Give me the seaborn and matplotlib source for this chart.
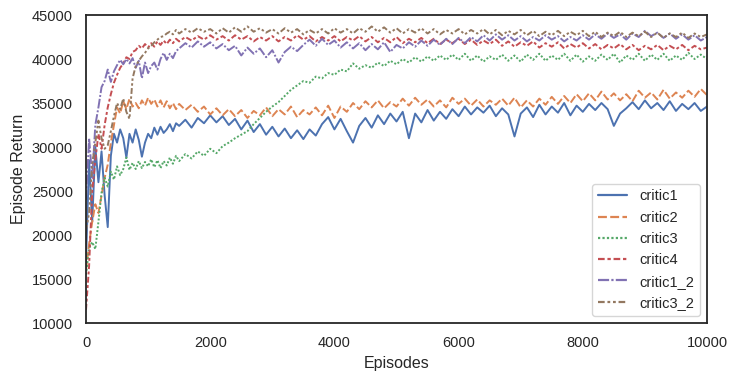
import numpy as np
import pandas as pd
import matplotlib
matplotlib.use("Agg")
import matplotlib.pyplot as plt
import seaborn as sns

# x grid: every 50 episodes up to 1450, then every 100 up to 10000
episodes = list(range(0, 1500, 50)) + list(range(1500, 10001, 100))

series_names = ["critic1", "critic2", "critic3", "critic4", "critic1_2", "critic3_2"]

critic1 = [
    17000, 28500, 21500, 30000, 26000, 29500, 24500, 20900, 29000, 31500,
    30500, 32000, 31000, 28800, 31500, 30500, 32000, 30800, 28900, 30500,
    31500, 31000, 32200, 31400, 32300, 31600, 32000, 32600, 31800, 32700,
    32400, 33100, 32200, 33300, 32700, 33600, 32800, 33500, 32500, 33200,
    32000, 33000, 31700, 32600, 31400, 32300, 31200, 32100, 31000, 31900,
    30900, 32000, 31300, 32600, 33400, 32000, 33200, 31800, 30500, 32400,
    33300, 32200, 33600, 32600, 33800, 32900, 34000, 31000, 33800, 32800,
    34200, 33000, 34000, 33200, 34300, 33500, 34600, 33700, 34500, 33900,
    34700, 33500, 34400, 33700, 31200, 33800, 34500, 33400, 34800, 33700,
    34600, 33900, 35000, 33600, 34700, 34000, 34900, 34200, 35000, 34300,
    32400, 33800, 34400, 35100, 34300, 35300, 34400, 35000, 34200, 35200,
    34100, 34900, 34300, 35000, 34100, 34600,
]

critic2 = [
    16000, 19000, 21500, 23500, 22500, 24500, 26500, 28000, 30500, 32500,
    34500, 33800, 35200, 34300, 35500, 34600, 35000, 34400, 35300, 34700,
    35600, 34900, 35400, 34600, 35300, 34500, 35200, 34400, 35000, 34300,
    34900, 34200, 34800, 34000, 34600, 33700, 34400, 33600, 34300, 33500,
    34200, 33300, 34100, 33600, 34500, 33500, 34300, 33700, 34600, 33400,
    34200, 33700, 34500, 33600, 34700, 33300, 34600, 34000, 35000, 34300,
    35200, 34500, 35300, 34400, 35100, 34600, 35500, 34700, 35600, 34800,
    35400, 34600, 35300, 34500, 35600, 34900, 35500, 34700, 35400, 34600,
    35300, 34800, 35500, 34700, 35600, 34500, 35300, 34600, 35500, 34800,
    35700, 34900, 35800, 35000, 36000, 35200, 36100, 35300, 36300, 35400,
    36100, 35300, 36000, 35200, 36400, 35600, 36200, 35400, 36500, 35500,
    36200, 35600, 36400, 35700, 36600, 35900,
]

critic3 = [
    15500, 18500, 19200, 18400, 21500, 24800, 26500, 25500, 27200, 26300,
    27800, 26800, 27500, 28800, 27400, 28200, 27500, 28400, 27600, 28300,
    27800, 28600, 27700, 28500, 27600, 28400, 27900, 28800, 28100, 29000,
    28400, 29200, 28700, 29500, 29000, 29800, 29300, 30100, 30500, 31000,
    31400, 31800, 32600, 33300, 34000, 34600, 35100, 35800, 36500, 37000,
    37500, 37300, 38000, 37800, 38400, 38200, 38800, 38600, 39500, 38900,
    39300, 39000, 39600, 39200, 39800, 39400, 40000, 39600, 40200, 39700,
    40300, 39800, 40400, 39900, 40500, 39900, 40600, 39800, 40400, 39700,
    40300, 39900, 40500, 39800, 40400, 39700, 40500, 39900, 40600, 39800,
    40400, 39900, 40600, 39800, 40500, 39700, 40300, 39800, 40500, 39900,
    40600, 39600, 40400, 39900, 40600, 39800, 40500, 39900, 40600, 39800,
    40400, 39900, 40700, 40000, 40500, 40000,
]

critic4 = [
    11500, 16500, 25000, 28500, 31500, 29800, 32500, 34500, 36000, 37300,
    38200, 39000, 39500, 40200, 40000, 40800, 41000, 41500, 41200, 41700,
    41300, 41800, 41400, 42000, 41600, 42100, 41700, 42200, 41800, 42300,
    42000, 42500, 42100, 42600, 42200, 42700, 42200, 42600, 42100, 42700,
    42200, 42600, 42000, 42500, 42100, 42600, 42000, 42500, 42100, 42700,
    42200, 42600, 42000, 42500, 42100, 42600, 42000, 42500, 42100, 42600,
    42000, 42500, 41900, 42400, 41900, 42500, 41800, 42300, 41900, 42400,
    41800, 42300, 41700, 42200, 41800, 42300, 41700, 42200, 41600, 42100,
    41700, 42200, 41500, 42000, 41400, 41900, 41500, 42000, 41300, 41800,
    41400, 41900, 41200, 41700, 41300, 41800, 41200, 41700, 41100, 41600,
    41200, 41700, 41100, 41600, 41000, 41500, 41100, 41600, 41000, 41500,
    41100, 41600, 41000, 41500, 41100, 41300,
]

critic1_2 = [
    24000, 31000, 26500, 32500, 34500, 36800, 37500, 38800, 37400, 38600,
    39300, 39900, 39400, 40000, 39500, 40100, 39000, 39800, 37800, 39600,
    38400, 39200, 39600, 38800, 40000, 40700, 39900, 40600, 40100, 40900,
    41200, 41800, 41300, 42000, 41400, 41900, 41200, 41700, 41000, 41500,
    40400, 41300, 40600, 41200, 40200, 41000, 39600, 40800, 41400, 40900,
    41600, 42200, 41500, 42300, 41600, 42100, 41300, 41900, 41200, 41800,
    41000, 41700, 41100, 41900, 40800, 41600, 41200, 41900, 41400, 42100,
    41500, 42200, 41600, 42300, 41700, 42400, 41800, 42500, 42000, 42700,
    42100, 42800, 42200, 42700, 42100, 42600, 42000, 42500, 42100, 42700,
    42200, 42600, 42000, 42500, 42100, 42700, 42200, 42800, 42300, 42900,
    42400, 42800, 42200, 42900, 42500, 43200, 42600, 43000, 42400, 42900,
    42300, 42800, 42200, 42700, 42100, 42500,
]

critic3_2 = [
    20500, 22500, 28000, 30500, 33000, 31000, 29800, 30200, 31800, 33500,
    35000, 34300, 35500, 34000, 33200, 37800, 39200, 39800, 40300, 40700,
    41200, 41500, 41900, 42200, 42500, 42600, 42900, 43100, 42800, 43300,
    42900, 43400, 43000, 43500, 43100, 43400, 42900, 43500, 43000, 43600,
    43100, 43700, 43100, 43500, 43000, 43400, 42900, 43500, 43000, 43400,
    42800, 43300, 42900, 43400, 42900, 43500, 43000, 43400, 42900, 43500,
    43100, 43700, 43100, 43600, 43000, 43500, 42900, 43400, 43000, 43500,
    42900, 43400, 42800, 43300, 42900, 43400, 42800, 43300, 42900, 43400,
    42800, 43300, 42700, 43200, 42800, 43300, 42700, 43200, 42600, 43100,
    42700, 43200, 42600, 43100, 42700, 43200, 42600, 43100, 42500, 43000,
    42600, 43100, 42500, 43000, 42600, 43100, 42500, 43000, 42400, 42900,
    42500, 43000, 42400, 42900, 42500, 42800,
]

all_values = [critic1, critic2, critic3, critic4, critic1_2, critic3_2]

frames = []
for name, vals in zip(series_names, all_values):
    frames.append(pd.DataFrame({"Episodes": episodes, "Episode Return": vals, "critic": name}))
df = pd.concat(frames, ignore_index=True)

sns.set_theme(style="white")
plt.rcParams["font.family"] = ["Liberation Sans", "DejaVu Sans"]

fig = plt.figure(figsize=(7.37, 3.81), dpi=100)
ax = fig.add_axes([0.1167, 0.1522, 0.8426, 0.8084])

sns.lineplot(data=df, x="Episodes", y="Episode Return", hue="critic", style="critic",
             errorbar=None, linewidth=1.4, ax=ax)

ax.set_xlim(0, 10000)
ax.set_ylim(10000, 45000)
ax.set_xticks([0, 2000, 4000, 6000, 8000, 10000])
ax.set_yticks([10000, 15000, 20000, 25000, 30000, 35000, 40000, 45000])
ax.tick_params(labelsize=10.5)
ax.set_xlabel("Episodes", fontsize=11.5)
ax.set_ylabel("Episode Return", fontsize=11.5)
for s in ax.spines.values():
    s.set_linewidth(1.3)

handles, labels = ax.get_legend_handles_labels()
leg = ax.legend(handles, labels, loc="lower right", fontsize=10.5, frameon=True)
for line in leg.get_lines():
    line.set_linewidth(1.6)

fig.savefig("out.png", dpi=100)
